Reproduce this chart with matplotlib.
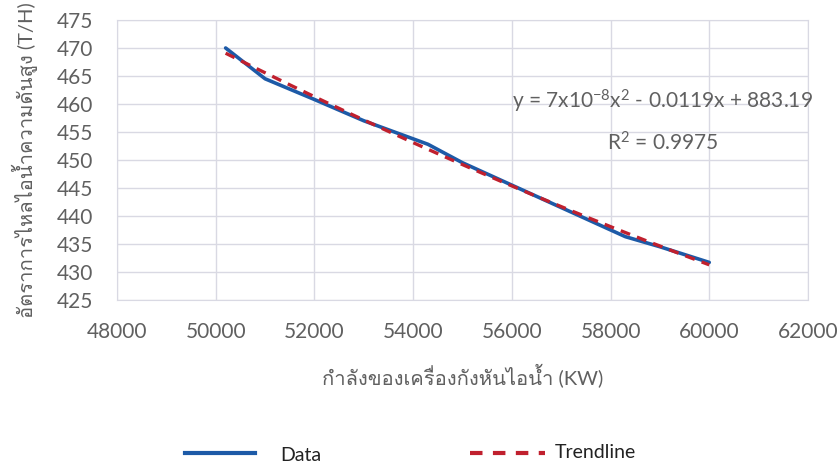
import numpy as np
import matplotlib
matplotlib.use("Agg")
import matplotlib.pyplot as plt
from matplotlib import font_manager as fm
from matplotlib.ft2font import FT2Font

# pick a font that has Thai glyphs, if any is installed
thai_family = None
for f in fm.fontManager.ttflist:
    try:
        if 0x0E01 in FT2Font(f.fname).get_charmap():
            thai_family = f.name
            break
    except Exception:
        pass
families = ["Lato"] + ([thai_family] if thai_family else []) + ["DejaVu Sans"]
plt.rcParams["font.family"] = families
plt.rcParams["mathtext.fontset"] = "custom"
plt.rcParams["mathtext.rm"] = "Lato"
plt.rcParams["mathtext.it"] = "Lato"

# data
power_kw = [50200, 51000, 52000, 53000, 54300, 55000, 56000, 57000, 58300, 59000, 60000]
steam_th = [470.0, 464.5, 460.8, 457.0, 452.8, 449.5, 445.5, 441.5, 436.3, 434.5, 431.7]

# quadratic trendline
coef = np.polyfit(power_kw, steam_th, 2)
xs = np.linspace(min(power_kw), max(power_kw), 200)
trend = np.polyval(coef, xs)

gray = "#606060"
grid_c = "#d9d9e3"

fig = plt.figure(figsize=(8.39, 4.65), dpi=100)
ax = fig.add_axes([0.1395, 0.355, 0.8235, 0.602])

ax.plot(power_kw, steam_th, color="#1d5aa7", lw=2.6, solid_capstyle="round", zorder=3)
ax.plot(xs, trend, color="#c0202e", lw=2.4, ls=(0, (3, 2.2)), zorder=4)

ax.set_xlim(48000, 62000)
ax.set_ylim(425, 475)
ax.set_xticks(np.arange(48000, 62001, 2000))
ax.set_yticks(np.arange(425, 476, 5))
ax.grid(True, color=grid_c, lw=1)
ax.set_axisbelow(True)
for s in ax.spines.values():
    s.set_color(grid_c)
ax.tick_params(axis="y", length=0, labelsize=15, colors=gray, pad=17)
ax.tick_params(axis="x", length=0, labelsize=15, colors=gray, pad=16)

ax.set_xlabel("กำลังของเครื่องกังหันไอน้ำ (KW)", fontsize=14.5, color=gray, labelpad=15)
ax.set_ylabel("อัตราการไหลไอน้ำความดันสูง (T/H)", fontsize=14.5, color=gray, labelpad=14)

ax.text(0.79, 0.71, r"y = 7x10$^{-8}$x$^{2}$ - 0.0119x + 883.19", transform=ax.transAxes,
        ha="center", va="center", fontsize=15, color=gray)
ax.text(0.79, 0.56, r"R$^{2}$ = 0.9975", transform=ax.transAxes,
        ha="center", va="center", fontsize=15, color=gray)

# legend drawn by hand below the plot
fig.lines.append(plt.Line2D([185 / 839, 255 / 839], [1 - 453 / 465] * 2, transform=fig.transFigure,
                            color="#1d5aa7", lw=3))
fig.text(280 / 839, 1 - 455 / 465, "Data", fontsize=14, color="#222222", va="center")
fig.lines.append(plt.Line2D([470 / 839, 545 / 839], [1 - 453 / 465] * 2, transform=fig.transFigure,
                            color="#c0202e", lw=3, ls=(0, (3, 2.5))))
fig.text(555 / 839, 1 - 452 / 465, "Trendline", fontsize=14, color="#222222", va="center")

fig.savefig("out.png", dpi=100, facecolor="white")
